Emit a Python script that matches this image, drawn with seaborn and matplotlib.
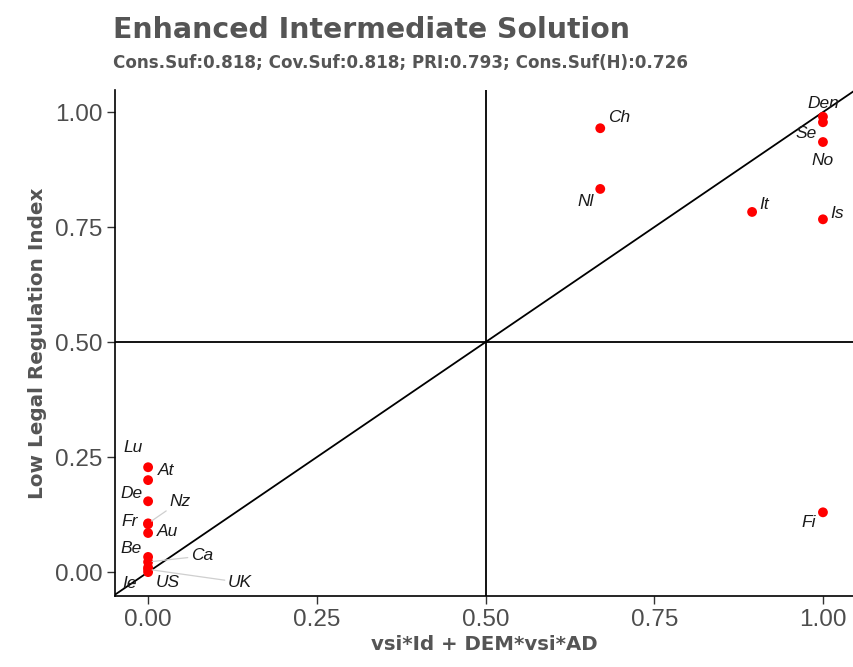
import matplotlib
matplotlib.use("Agg")
import matplotlib.pyplot as plt
import seaborn as sns
import pandas as pd

# Case scores: solution membership (x) vs outcome membership (y)
cases = ["Lu", "At", "De", "Nz", "Fr", "Au", "Be", "Ca", "Ie", "US", "UK",
         "Ch", "Nl", "It", "Is", "Den", "Se", "No", "Fi"]
solution = [0.0, 0.0, 0.0, 0.0, 0.0, 0.0, 0.0, 0.0, 0.0, 0.0, 0.0,
            0.67, 0.67, 0.895, 1.0, 1.0, 1.0, 1.0, 1.0]
outcome = [0.228, 0.20, 0.154, 0.106, 0.104, 0.085, 0.033, 0.022, 0.0, 0.01, 0.006,
           0.965, 0.833, 0.783, 0.767, 0.99, 0.978, 0.935, 0.13]

# label offsets in pixels (dx, dy) and whether a leader segment is drawn
label_offsets = {
    "Lu": (-15, 20, False), "At": (18, 10, False), "De": (-17, 8, False),
    "Nz": (32, 22, True), "Fr": (-18, 3, False), "Au": (19, 2, False),
    "Be": (-17, 8, False), "Ca": (54, 6, True), "Ie": (-19, -11, False),
    "US": (20, -15, False), "UK": (92, -13, True),
    "Ch": (19, 11, False), "Nl": (-15, -13, False), "It": (12, 7, False),
    "Is": (14, 6, False), "Den": (0, 13, False), "Se": (-17, -11, False),
    "No": (0, -18, False), "Fi": (-14, -10, False),
}

x_ticks = [0.0, 0.25, 0.5, 0.75, 1.0]
y_ticks = [0.0, 0.25, 0.5, 0.75, 1.0]

title = "Enhanced Intermediate Solution"
subtitle = "Cons.Suf:0.818; Cov.Suf:0.818; PRI:0.793; Cons.Suf(H):0.726"
x_label = "vsi*Id + DEM*vsi*AD"
y_label = "Low Legal Regulation Index"

df = pd.DataFrame({"case": cases, "x": solution, "y": outcome})

sns.set_theme(style="white")
plt.rcParams["font.family"] = ["Liberation Sans", "DejaVu Sans"]

fig = plt.figure(figsize=(8.54, 6.67), dpi=100)
ax = fig.add_axes([0.1347, 0.1064, 0.8653, 0.7586])

ax.axhline(0.5, color="black", lw=1.3, zorder=1)
ax.axvline(0.5, color="black", lw=1.3, zorder=1)
ax.axline((0, 0), (1, 1), color="black", lw=1.3, zorder=1)

sns.scatterplot(data=df, x="x", y="y", color="#ff0000", s=50,
                edgecolor="none", ax=ax, zorder=3)

for c, xv, yv in zip(cases, solution, outcome):
    dx, dy, seg = label_offsets[c]
    arrow = dict(arrowstyle="-", color="#cfcfcf", lw=0.9,
                 shrinkA=0, shrinkB=3) if seg else None
    ax.annotate(c, xy=(xv, yv), xytext=(dx, dy), textcoords="offset pixels",
                ha="center", va="center", fontsize=12.5, style="italic",
                color="#1a1a1a", arrowprops=arrow, zorder=4)

ax.set_xlim(-0.049, 1.046)
ax.set_ylim(-0.052, 1.048)
ax.set_xticks(x_ticks)
ax.set_yticks(y_ticks)
ax.set_xticklabels([f"{t:.2f}" for t in x_ticks])
ax.set_yticklabels([f"{t:.2f}" for t in y_ticks])
ax.tick_params(axis="both", which="major", length=6, width=1, color="#333333",
               labelsize=17.5, labelcolor="#4d4d4d", direction="out",
               bottom=True, left=True, pad=3)

for side in ["top", "right"]:
    ax.spines[side].set_visible(False)
for side in ["left", "bottom"]:
    ax.spines[side].set_color("black")
    ax.spines[side].set_linewidth(1.2)

ax.set_xlabel(x_label, fontsize=14.2, fontweight="bold", color="#555555",
              family="DejaVu Sans", labelpad=3)
ax.set_ylabel(y_label, fontsize=14.4, fontweight="bold", color="#555555",
              family="DejaVu Sans", labelpad=6)

fig.text(0.1323, 0.943, title, fontsize=20.4, fontweight="bold", color="#555555",
         family="DejaVu Sans", ha="left", va="baseline")
fig.text(0.1323, 0.898, subtitle, fontsize=12.1, fontweight="bold", color="#555555",
         family="DejaVu Sans", ha="left", va="baseline")

fig.savefig("out.png", dpi=100)
